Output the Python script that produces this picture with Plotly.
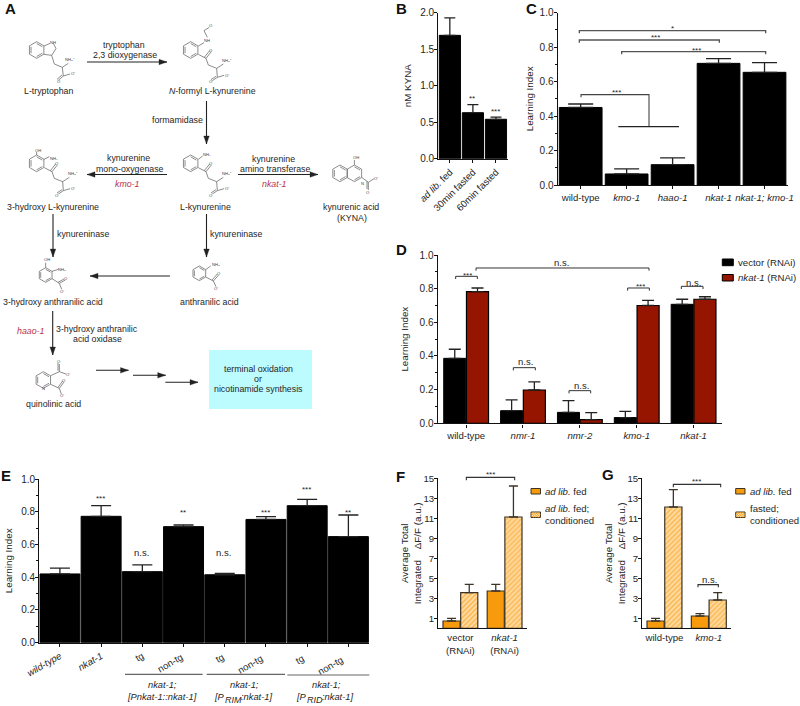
import plotly.graph_objects as go

W, H = 800, 706
FONT = "Liberation Sans"
TXT = "#262626"

# ---------- data ----------
b_labels = ["<i>ad lib.</i> fed", "30min fasted", "60min fasted"]
b_vals = [1.69, 0.63, 0.54]
b_errs = [0.24, 0.11, 0.03]

c_labels = ["wild-type", "<i>kmo-1</i>", "<i>haao-1</i>", "<i>nkat-1</i>", "<i>nkat-1; kmo-1</i>"]
c_vals = [0.45, 0.064, 0.118, 0.706, 0.654]
c_errs = [0.02, 0.03, 0.039, 0.027, 0.056]

d_labels = ["wild-type", "<i>nmr-1</i>", "<i>nmr-2</i>", "<i>kmo-1</i>", "<i>nkat-1</i>"]
d_vector = [0.386, 0.075, 0.065, 0.034, 0.707]
d_vector_err = [0.054, 0.064, 0.07, 0.037, 0.03]
d_nkat = [0.782, 0.198, 0.022, 0.70, 0.737]
d_nkat_err = [0.022, 0.048, 0.041, 0.03, 0.015]

e_labels = ["<i>wild-type</i>", "<i>nkat-1</i>", "tg", "non-tg ", "tg ", "non-tg  ", "tg  ", "non-tg   "]
e_vals = [0.42, 0.772, 0.434, 0.709, 0.415, 0.753, 0.837, 0.648]
e_errs = [0.036, 0.065, 0.041, 0.01, 0.009, 0.017, 0.039, 0.132]

f_labels = ["vector<br>(RNAi)", "<i>nkat-1</i><br>(RNAi)"]
f_fed = [0.73, 3.73]
f_fed_err = [0.27, 0.67]
f_cond = [3.57, 11.13]
f_cond_err = [0.83, 3.1]

g_labels = ["wild-type", "<i>kmo-1</i>"]
g_fed = [0.73, 1.23]
g_fed_err = [0.27, 0.24]
g_cond = [12.13, 2.83]
g_cond_err = [1.74, 0.74]

ORANGE = "#f79a0c"
HATCH_BG = "#ffdca6"
DARKRED = "#951500"
EDGE = "#3d3428"

# ---------- pixel helpers ----------
def px(x, y):
    return x / W, 1 - y / H

shapes, annots = [], []

def path(points, color="#111", width=1.0, fill=None):
    d = "M " + " L ".join("%.5f %.5f" % px(*p) for p in points)
    if fill:
        d += " Z"
    s = dict(type="path", xref="paper", yref="paper", path=d,
             line=dict(color=color, width=width))
    if fill:
        s["fillcolor"] = fill
    shapes.append(s)

def text(x, y, t, size=8.8, color=TXT, anchor="center", angle=0, bold=False):
    annots.append(dict(xref="paper", yref="paper", x=px(x, y)[0], y=px(x, y)[1],
                       text="<b>%s</b>" % t if bold else t, showarrow=False,
                       xanchor=anchor, yanchor="middle", textangle=angle,
                       align="center", borderpad=0,
                       font=dict(family=FONT, size=size, color=color)))

def arrow(x0, y0, x1, y1, color="#222"):
    path([(x0, y0), (x1, y1)], color=color, width=1.1)
    hl, hw = 8, 2.8
    if y0 == y1:
        s = 1 if x1 > x0 else -1
        path([(x1, y1), (x1 - s * hl, y1 - hw), (x1 - s * hl, y1 + hw)], color=color, width=0.3, fill=color)
    else:
        s = 1 if y1 > y0 else -1
        path([(x1, y1), (x1 - hw, y1 - s * hl), (x1 + hw, y1 - s * hl)], color=color, width=0.3, fill=color)

# ---------- panel A (coordinates from 3x crops) ----------
MOL = "#5a5a5a"
def mline(pts, ox=0, oy=0):
    path([(ox + x / 3, oy + y / 3) for x, y in pts], color=MOL, width=0.7)

def mlabel(x, y, t, ox=0, oy=0):
    text(ox + x / 3, oy + y / 3, t, size=4.2, color="#444")

def ring(cx, cy, r=25, ox=0, oy=0, inner=(0, 2, 4)):
    h = r * 0.866
    v = [(cx, cy - r), (cx + h, cy - r / 2), (cx + h, cy + r / 2), (cx, cy + r), (cx - h, cy + r / 2), (cx - h, cy - r / 2)]
    mline(v + [v[0]], ox, oy)
    for i in inner:
        a, b = v[i], v[(i + 1) % 6]
        k = 0.78
        mline([(cx + (a[0] - cx) * k, cy + (a[1] - cy) * k), (cx + (b[0] - cx) * k, cy + (b[1] - cy) * k)], ox, oy)

def carboxyl(cx, cy, ox1, oy1, ox2, oy2, oy=0):
    mline([(cx, cy), (ox1, oy1)], 0, oy)
    mline([(cx - 4, cy - 3), (ox1 - 4, oy1 - 3)], 0, oy)
    mline([(cx, cy), (ox2, oy2)], 0, oy)

def kyn_chain(cx, cy):
    mline([(cx + 23, cy + 13), (cx + 46, cy + 25), (cx + 53, cy + 45), (cx + 78, cy + 55), (cx + 98, cy + 42)])
    mline([(cx + 46, cy + 25), (cx + 62, cy + 5)])
    mline([(cx + 41, cy + 22), (cx + 57, cy + 2)])
    mline([(cx + 78, cy + 55), (cx + 80, cy + 82)])
    carboxyl(cx + 80, cy + 82, cx + 65, cy + 92, cx + 100, cy + 76)
    mlabel(cx + 61, cy, "O")
    mlabel(cx + 108, cy + 31, "NH₃⁺")
    mlabel(cx + 60, cy + 96, "O")
    mlabel(cx + 110, cy + 75, "O⁻")

# tryptophan
ring(110, 150)
mline([(132, 138), (150, 130)]); mline([(160, 130), (168, 146), (155, 166), (132, 163)])
mline([(155, 166), (163, 192), (187, 202), (205, 190)])
mline([(187, 202), (190, 228)])
carboxyl(190, 228, 175, 241, 210, 222)
mlabel(158, 126, "NH"); mlabel(210, 180, "NH₃⁺"); mlabel(176, 244, "O"); mlabel(220, 222, "O⁻")
# N-formyl kynurenine
ring(572, 150); kyn_chain(572, 150)
mline([(595, 138), (612, 128)]); mline([(622, 112), (612, 92), (628, 82)])
mlabel(622, 122, "NH"); mlabel(633, 78, "O")
# L-kynurenine
ring(572, 490); kyn_chain(572, 490)
mline([(595, 478), (608, 468)]); mlabel(622, 464, "NH₂")
# 3-hydroxy kynurenine
ring(110, 490); kyn_chain(110, 490)
mline([(110, 465), (110, 456)]); mlabel(115, 452, "OH")
mline([(132, 478), (148, 470)]); mlabel(163, 474, "NH₂")
# kynurenic acid
ring(1020, 520); ring(1063.3, 520, inner=(0, 2))
mline([(1063.3, 495), (1063.3, 480)]); mlabel(1067, 472, "OH")
mlabel(1088, 549, "N")
mline([(1085, 532), (1105, 547)])
carboxyl(1105, 547, 1105, 570, 1122, 536)
mlabel(1105, 577, "O"); mlabel(1130, 534, "O⁻")
# 3-hydroxy anthranilic acid
ring(137, 135, 22, 0, 230)
mline([(137, 113), (137, 98)], 0, 230); mlabel(140, 88, "OH", 0, 230)
mline([(156, 124), (175, 118)], 0, 230); mlabel(187, 119, "NH₃", 0, 230)
carboxyl(178, 160, 196, 150, 185, 178, oy=230)
mline([(156, 146), (178, 160)], 0, 230)
mlabel(198, 146, "O", 0, 230); mlabel(187, 184, "O⁻", 0, 230)
# anthranilic acid
ring(598, 130, 22, 0, 230)
mline([(617, 119), (632, 108)], 0, 230); mlabel(647, 103, "NH₃", 0, 230)
mline([(617, 141), (640, 153)], 0, 230)
carboxyl(640, 153, 656, 135, 648, 170, oy=230)
mlabel(658, 131, "O", 0, 230); mlabel(648, 174, "O⁻", 0, 230)
# quinolinic acid
ring(130, 450, 25, 0, 230)
mlabel(130, 474, "N", 0, 230)
mline([(152, 437), (178, 425)], 0, 230)
carboxyl(178, 425, 178, 402, 198, 432, oy=230)
mline([(152, 463), (178, 475)], 0, 230)
carboxyl(178, 475, 192, 456, 184, 492, oy=230)
mlabel(178, 396, "O", 0, 230); mlabel(205, 433, "O⁻", 0, 230)
mlabel(193, 451, "O", 0, 230); mlabel(186, 496, "O⁻", 0, 230)

# pathway arrows
arrow(87, 62, 167, 62)
arrow(206.5, 101, 206.5, 144)
arrow(167, 174.5, 87, 174.5)
arrow(238, 174.5, 318, 174.5)
arrow(53, 214, 53, 257)
arrow(206.5, 214, 206.5, 257)
arrow(170, 276, 90, 276)
arrow(52.7, 311, 52.7, 355)
arrow(96, 370.3, 128.5, 370.3)
arrow(133, 375.3, 165.7, 375.3)
arrow(165.3, 382.3, 198, 382.3)

shapes.append(dict(type="rect", xref="paper", yref="paper", layer="below",
                   x0=px(209, 0)[0], x1=px(312, 0)[0], y0=px(0, 409)[1], y1=px(0, 350)[1],
                   fillcolor="#bcfcff", line=dict(width=0)))

for x, y, t in [(371, 134, "tryptophan"), (375, 165, "2,3 dioxygenase"), (148, 272, "L-tryptophan"),
                (637, 272, "<i>N</i>-formyl L-kynurenine"), (533, 360, "formamidase"),
                (386, 475, "kynurenine"), (390, 507, "mono-oxygenase"),
                (821, 477, "kynurenine"), (825, 507, "amino transferase"),
                (159, 620, "3-hydroxy L-kynurenine"), (616, 620, "L-kynurenine"),
                (1054, 620, "kynurenic acid"), (1057, 653, "(KYNA)")]:
    text(x / 3, y / 3, t)
RED = "#b8324c"
text(382 / 3, 552 / 3, "<i>kmo-1</i>", color=RED)
text(823 / 3, 552 / 3, "<i>nkat-1</i>", color=RED)
for x, y, t in [(248, 12, "kynureninase"), (707, 12, "kynureninase"),
                (159, 216, "3-hydroxy anthranilic acid"), (628, 216, "anthranilic acid"),
                (290, 297, "3-hydroxy anthranilic"), (293, 328, "acid oxidase"),
                (159, 521, "quinolinic acid"), (775, 417, "terminal oxidation"), (775, 448, "or"),
                (775, 478, "nicotinamide synthesis")]:
    text(x / 3, 230 + y / 3, t)
text(90 / 3, 230 + 304 / 3, "<i>haao-1</i>", color=RED)

# panel letters
for x, y, t in [(10, 9, "A"), (402, 9, "B"), (531, 9, "C"), (401, 250, "D"),
                (6, 475, "E"), (400, 476, "F"), (607.7, 474, "G")]:
    text(x, y, t, size=15, color="#111", bold=True)

# ---------- charts ----------
fig = go.Figure()

def axes(n, x0, x1, ytop, ybot, yrange, ncat, ylabels=None, dtick=None, minor=None, ttl=None,
         standoff=6, tickangle=0, xticks="outside", size=10, xsize=9.6, ttl_size=9.8):
    sx = "" if n == 1 else str(n)
    common = dict(showline=True, linecolor="#111", linewidth=1.4, showgrid=False, zeroline=False,
                  automargin=False, tickcolor="#111")
    xa = dict(domain=[x0 / W, x1 / W], anchor="y" + sx, range=[-0.5, ncat - 0.5],
              ticks=xticks, ticklen=3, tickwidth=1.2, tickangle=tickangle, type="category",
              tickfont=dict(family=FONT, size=xsize, color=TXT), **common)
    ya = dict(domain=[1 - ybot / H, 1 - ytop / H], anchor="x" + sx, range=yrange,
              ticks="outside", ticklen=3, tickwidth=1.2, ticklabelstandoff=-2,
              tickfont=dict(family=FONT, size=size, color=TXT),
              title=dict(text=ttl, standoff=standoff, font=dict(family=FONT, size=ttl_size, color=TXT)), **common)
    if ylabels:
        ya["tickmode"] = "array"; ya["tickvals"] = ylabels; ya["ticktext"] = [str(v) for v in ylabels]
    else:
        ya["dtick"] = dtick; ya["tick0"] = 0; ya["tickformat"] = ".1f"
    if minor:
        ya["minor"] = dict(ticks="outside", dtick=minor, ticklen=2, tickwidth=1, tickcolor="#111")
    fig.layout["xaxis" + sx] = xa
    fig.layout["yaxis" + sx] = ya
    return "x" + sx, "y" + sx

def bars(xa, ya, cats, vals, errs, name, color="#000", hatch=False, cap=6, ecolor="#222", lw=1, lc="#000", off=None, width=None):
    m = dict(color=color, line=dict(color=lc, width=lw))
    if hatch:
        m["color"] = HATCH_BG
        m["pattern"] = dict(shape="/", fgcolor=ORANGE, bgcolor=HATCH_BG, size=3.5, solidity=0.5)
    fig.add_trace(go.Bar(x=cats, y=vals, name=name, xaxis=xa, yaxis=ya, marker=m, showlegend=False,
                         offsetgroup=off, width=width,
                         error_y=dict(type="data", symmetric=False, array=errs, arrayminus=[0] * len(errs),
                                      color=ecolor, thickness=1.3, width=cap)))

# B
xa, ya = axes(1, 438.3, 507.5, 12.7, 158.7, [0, 2], 3, dtick=0.5, ttl="nM KYNA", tickangle=-45, standoff=6)
bars(xa, ya, b_labels, b_vals, b_errs, "KYNA", cap=5.5, width=0.92)
# C
xa, ya = axes(2, 557.7, 787.5, 12.7, 185, [0, 1], 5, dtick=0.2, minor=0.1, ttl="Learning Index", standoff=4)
bars(xa, ya, c_labels, c_vals, c_errs, "Learning Index", cap=12.5, width=0.93)
# D
xa, ya = axes(3, 437.7, 722, 255, 423.3, [0, 1], 5, dtick=0.2, minor=0.1, ttl="Learning Index", standoff=9)
bars(xa, ya, d_labels, d_vector, d_vector_err, "vector (RNAi)", cap=6, off="a")
bars(xa, ya, d_labels, d_nkat, d_nkat_err, "nkat-1 (RNAi)", color=DARKRED, cap=6, lw=1.2, off="b")
# E
xa, ya = axes(4, 39.3, 369, 479, 642.7, [0, 1], 8, dtick=0.2, minor=0.1, ttl="Learning Index", tickangle=-30, standoff=6)
bars(xa, ya, e_labels, e_vals, e_errs, "Learning Index", cap=10, width=0.97)
# F
yt = [1, 3, 5, 7, 9, 11, 13, 15]
xa, ya = axes(5, 438.3, 526.7, 478.3, 628.3, [0, 15], 2, ylabels=yt,
              ttl="Average Total<br>Integrated    ΔF/F (a.u.)", xticks="", size=9.6, standoff=0)
bars(xa, ya, f_labels, f_fed, f_fed_err, "ad lib. fed", color=ORANGE, cap=4.5, lw=1.2, lc=EDGE, ecolor=EDGE, off="a")
bars(xa, ya, f_labels, f_cond, f_cond_err, "ad lib. fed; conditioned", hatch=True, cap=4.5, lw=1.2, lc=EDGE, ecolor=EDGE, off="b")
# G
xa, ya = axes(6, 642.3, 731, 478.3, 628.3, [0, 15], 2, ylabels=yt,
              ttl="Average Total<br>Integrated    ΔF/F (a.u.)", xticks="", size=9.6, standoff=0)
bars(xa, ya, g_labels, g_fed, g_fed_err, "ad lib. fed", color=ORANGE, cap=4.5, lw=1.2, lc=EDGE, ecolor=EDGE, off="a")
bars(xa, ya, g_labels, g_cond, g_cond_err, "fasted; conditioned", hatch=True, cap=4.5, lw=1.2, lc=EDGE, ecolor=EDGE, off="b")

# ---------- significance marks ----------
def bracket(x0, x1, y, ox, oy, drop=8, color="#333", width=1.0):
    path([(ox + x0 / 3, oy + (y + drop) / 3), (ox + x0 / 3, oy + y / 3), (ox + x1 / 3, oy + y / 3), (ox + x1 / 3, oy + (y + drop) / 3)],
         color=color, width=width)

STAR = 8
# B
text(390 + 247 / 3, 296 / 3, "**", size=STAR); text(390 + 316 / 3, 334 / 3, "***", size=STAR)
# C
for x0, x1, y in [(568, 1127, 92), (568, 988, 120), (695, 1127, 155)]:
    bracket(x0, x1, y, 390, 0, color="#555", width=1.3)
text(390 + 848 / 3, 84 / 3, "*", size=STAR); text(390 + 797 / 3, 113 / 3, "***", size=STAR); text(390 + 920 / 3, 151 / 3, "***", size=STAR)
path([(390 + 573 / 3, 292 / 3), (390 + 573 / 3, 284 / 3), (390 + 777 / 3, 284 / 3), (390 + 777 / 3, 380 / 3)], color="#444", width=1.1)
path([(390 + 685 / 3, 380 / 3), (390 + 867 / 3, 380 / 3)], color="#222", width=1.1)
text(390 + 678 / 3, 278 / 3, "***", size=STAR)
# D
for x0, x1, y in [(167, 232, 124), (228, 747, 99), (340, 406, 398), (507, 572, 467), (683, 748, 159), (844, 909, 154)]:
    bracket(x0, x1, y, 400, 235)
for x, y, t in [(201, 122, "***"), (720, 155, "***")]:
    text(400 + x / 3, 235 + y / 3, t, size=STAR)
for x, y in [(484, 82), (377, 381), (544, 451), (879, 143)]:
    text(400 + x / 3, 235 + y / 3, "n.s.", size=9.5)
# E
for x, y, t in [(302, 99, "***"), (549, 141, "**"), (796, 141, "***"), (919, 74, "***"), (1044, 141, "**")]:
    text(x / 3, 465 + y / 3, t, size=STAR)
for x, y in [(424, 262), (671, 262)]:
    text(x / 3, 465 + y / 3, "n.s.", size=9.5)
for x0, x1, y in [(375, 608, 628), (620, 855, 628), (862, 1108, 630)]:
    path([(x0 / 3, 465 + y / 3), (x1 / 3, 465 + y / 3)], color="#666", width=1.1)
for x in (487, 732, 978):
    text(x / 3, 465 + 659 / 3, "<i>nkat-1;</i>", size=9.3)
text(487 / 3, 465 + 695 / 3, "<i>[Pnkat-1::nkat-1]</i>", size=9.3)
for x_p, x_s, x_t, sub in [(638, 672, 719, "RIM"), (885, 917, 962, "RID")]:
    text(x_p / 3, 465 + 695 / 3, "<i>[P</i>", size=9.3, anchor="left")
    text(x_s / 3, 465 + 705 / 3, "<i>%s</i>" % sub, size=9, anchor="left")
    text(x_t / 3, 465 + 695 / 3, "<i>:nkat-1]</i>", size=9.3, anchor="left")
# F, G
bracket(139, 284, 22, 420, 470, drop=9, width=1.1)
text(420 + 211 / 3, 470 + 14 / 3, "***", size=STAR)
bracket(760, 902, 43, 420, 470, drop=9, width=1.1)
text(420 + 830 / 3, 470 + 35 / 3, "***", size=STAR)
bracket(834, 895, 344, 420, 470, drop=8, width=1.1)
text(420 + 867 / 3, 470 + 328 / 3, "n.s.", size=9.5)

# ---------- legends ----------
def swatch(x0, y0, x1, y1, color, hatch=False, lc="#000"):
    shapes.append(dict(type="rect", xref="paper", yref="paper", x0=x0 / W, x1=x1 / W, y0=1 - y1 / H, y1=1 - y0 / H,
                       fillcolor=HATCH_BG if hatch else color, line=dict(color=lc, width=1)))
    if hatch:
        step = 2.4
        n = int((x1 - x0 + y1 - y0) / step)
        for i in range(1, n):
            d = i * step
            ax = min(x0 + d, x1); ay = y1 - max(0, x0 + d - x1)
            bx = max(x0, x0 + d - (y1 - y0)); by = y1 - min(d, y1 - y0)
            path([(ax, ay), (bx, by)], color=ORANGE, width=0.9)

swatch(722.3, 259, 733.3, 265.7, "#000")
text(737, 262.5, "vector (RNAi)", size=9.6, anchor="left")
swatch(722.3, 274.5, 733.3, 281, DARKRED)
text(737, 278, "<i>nkat-1</i> (RNAi)", size=9.6, anchor="left")

swatch(531, 488.5, 540.5, 494, ORANGE, lc=EDGE)
text(544, 491, "<i>ad lib.</i> fed", size=9.6, anchor="left")
swatch(531, 512, 540.5, 517.5, ORANGE, hatch=True, lc=EDGE)
text(544, 508.5, "<i>ad lib.</i> fed;", size=9.6, anchor="left")
text(544, 520, "conditioned", size=9.6, anchor="left")

swatch(735.7, 488.5, 745, 494, ORANGE, lc=EDGE)
text(749, 491, "<i>ad lib.</i> fed", size=9.6, anchor="left")
swatch(735.7, 512, 745, 517.5, ORANGE, hatch=True, lc=EDGE)
text(749, 508.5, "fasted;", size=9.6, anchor="left")
text(749, 520, "conditioned", size=9.6, anchor="left")

fig.update_layout(width=W, height=H, margin=dict(l=0, r=0, t=0, b=0, pad=0, autoexpand=False), paper_bgcolor="white",
                  plot_bgcolor="rgba(0,0,0,0)", barmode="group", bargap=0.2, bargroupgap=0.03,
                  shapes=shapes, annotations=annots, showlegend=False,
                  font=dict(family=FONT, color=TXT))
fig.write_html("out.html", include_plotlyjs=True, config={"displayModeBar": False},
               post_script="document.body.style.margin='0';")
